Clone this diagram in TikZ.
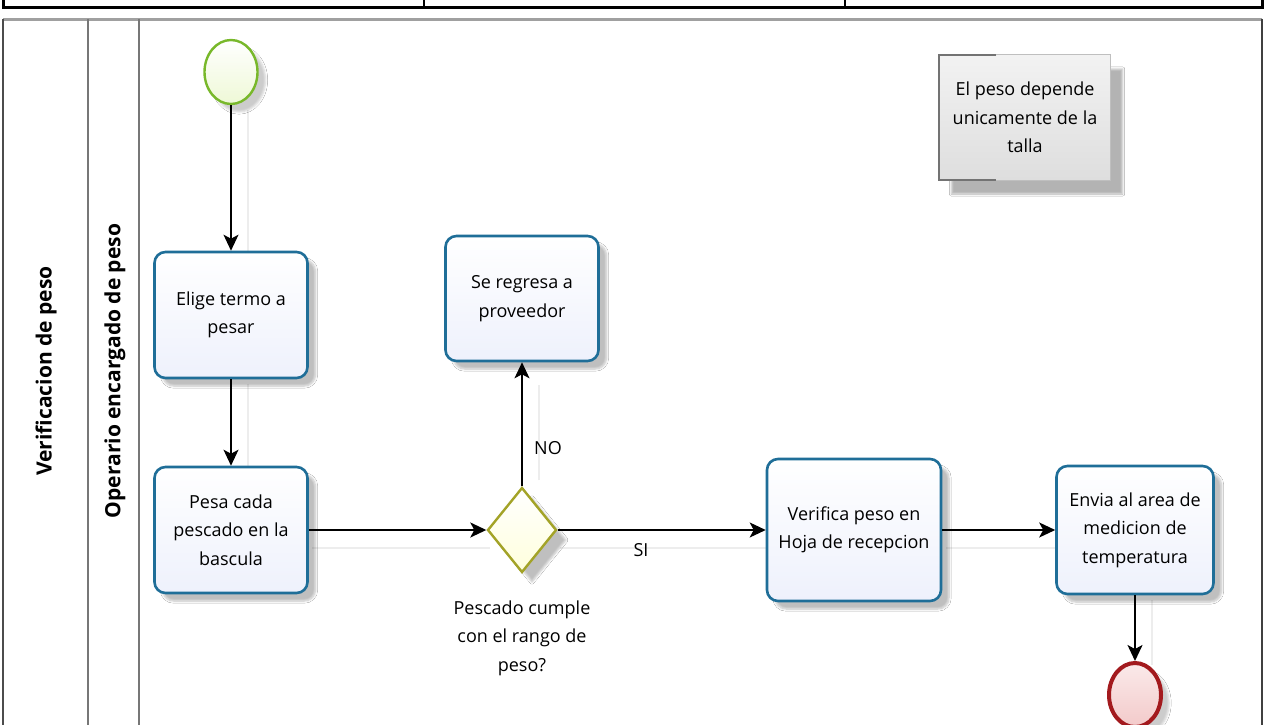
\documentclass[tikz,border=0pt]{standalone}
\usepackage{fontspec}
\setmainfont{Open Sans}
\usetikzlibrary{arrows.meta,shapes.geometric,shadows.blur}
\definecolor{taskline}{HTML}{1F6E98}
\definecolor{taskfill}{HTML}{EEF1FC}
\definecolor{startline}{HTML}{78B82A}
\definecolor{startfill}{HTML}{EEF8D6}
\definecolor{endline}{HTML}{A31A1E}
\definecolor{endfill}{HTML}{F3CACA}
\definecolor{gwline}{HTML}{A3A327}
\definecolor{gwfill}{HTML}{FFFFDC}
\definecolor{lanegray}{HTML}{777777}
\tikzset{
  every node/.style={font=\fontsize{18}{28.5}\selectfont, text=black},
  task/.style={draw=taskline, line width=2.6pt, rounded corners=11pt,
    top color=white, bottom color=taskfill, inner sep=0pt, align=center,
    blur shadow={shadow xshift=8pt, shadow yshift=-8pt, shadow blur steps=6, shadow opacity=25}},
  startev/.style={ellipse, draw=startline, line width=2.4pt, top color=white, bottom color=startfill,
    minimum width=53pt, minimum height=64pt, inner sep=0pt,
    blur shadow={shadow xshift=8pt, shadow yshift=-8pt, shadow opacity=20}},
  endev/.style={ellipse, draw=endline, line width=4pt, top color=white!60!endfill, bottom color=endfill,
    minimum width=52pt, minimum height=64pt, inner sep=0pt,
    blur shadow={shadow xshift=8pt, shadow yshift=-8pt, shadow opacity=20}},
  gateway/.style={diamond, draw=gwline, line width=2.4pt, top color=white, bottom color=gwfill,
    minimum width=69pt, minimum height=85pt, inner sep=0pt, aspect=0.8,
    blur shadow={shadow xshift=10pt, shadow yshift=-10pt, shadow opacity=25}},
  flow/.style={draw=black, line width=1.8pt, -{Stealth[length=16pt,width=15pt,inset=4pt]}},
  flowshadow/.style={draw=black!7, line width=1.5pt},
  lanelabel/.style={rotate=90, font=\bfseries\fontsize{21}{24}\selectfont},
  plain/.style={align=center},
}
\begin{document}
\begin{tikzpicture}[x=1pt,y=-1pt]
\useasboundingbox (0,0) rectangle (1266,725);
\fill[white] (0,0) rectangle (1266,725);
% top table strip
\draw[black, line width=3pt] (3,-2) -- (3,8) -- (1262,8) -- (1262,-2);
\draw[black, line width=1.2pt] (424,-2) -- (424,8) (845,-2) -- (845,8);
% pool
\draw[lanegray!70, line width=2.5pt] (3,19.5) -- (1262,19.5);
\draw[black!70, line width=2pt] (3,19) -- (3,730);
\draw[black!75, line width=2.2pt] (1262,19) -- (1262,730);
\draw[lanegray, line width=2pt] (88,19) -- (88,730) (139,19) -- (139,730);
\node[lanelabel] (pool) at (46,371) {Verificacion de peso};
\node[lanelabel] (lane) at (115,371) {Operario encargado de peso};

% connector shadows
\draw[flowshadow] (248,110) -- (248,252);
\draw[flowshadow] (248,384) -- (248,466);
\draw[flowshadow] (312,548) -- (490,548);
\draw[flowshadow] (539,480) -- (539,385);
\draw[flowshadow] (560,548) -- (770,548);
\draw[flowshadow] (946,548) -- (1060,548);
\draw[flowshadow] (1152,600) -- (1152,665);

% nodes
\node[startev] (start) at (231,72) {};
\node[task, minimum width=153pt, minimum height=126pt] (elige) at (231,315) {Elige termo a\\pesar};
\node[task, minimum width=153pt, minimum height=126pt] (pesa) at (231,530) {Pesa cada\\pescado en la\\bascula};
\node[gateway] (gw) at (522,530) {};
\node[task, minimum width=153pt, minimum height=125pt] (regresa) at (522,298.5) {Se regresa a\\proveedor};
\node[task, minimum width=174pt, minimum height=142pt] (verifica) at (854,530) {Verifica peso en\\Hoja de recepcion};
\node[task, minimum width=157pt, minimum height=128pt] (envia) at (1135,530) {Envia al area de\\medicion de\\temperatura};
\node[endev] (end) at (1135,695) {};

% annotation
\node[draw=none, top color=white!95!black, bottom color=black!13, minimum width=171pt, minimum height=125pt, inner sep=0pt, align=center,
  blur shadow={shadow xshift=12pt, shadow yshift=-14pt, shadow opacity=30}] (note) at (1025,117.5) {El peso depende\\unicamente de la\\talla};
\draw[black!25, line width=1pt] (note.north west) rectangle (note.south east);
\draw[black!55, line width=2pt] ([xshift=57pt]note.north west) -- (note.north west) -- (note.south west) -- ([xshift=57pt]note.south west);

% flows
\draw[flow] (start) -- (elige);
\draw[flow] (elige) -- (pesa);
\draw[flow] (pesa) -- (gw);
\draw[flow] (gw.north) -- (regresa.south);
\draw[flow] (gw.east) -- (verifica.west);
\draw[flow] (verifica) -- (envia);
\draw[flow] (envia) -- (end);

% labels
\node (no) at (548,448) {NO};
\node (si) at (641,550) {SI};
\node[plain] (gwlabel) at (522,638) {Pescado cumple\\con el rango de\\peso?};
\end{tikzpicture}
\end{document}
